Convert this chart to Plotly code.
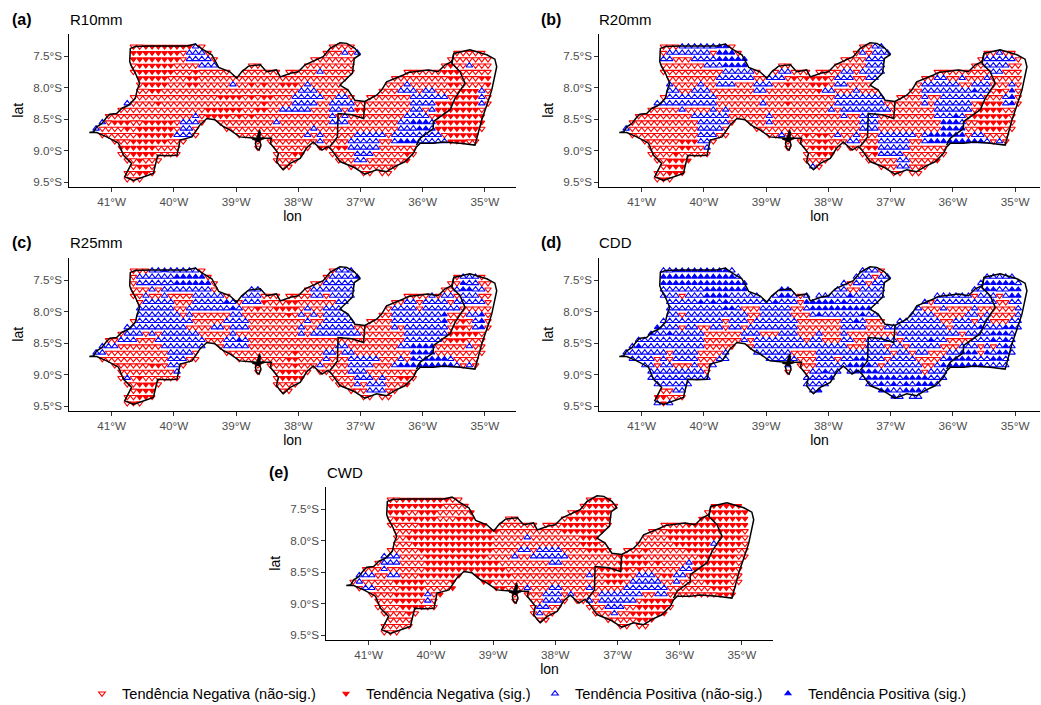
import plotly.graph_objects as go

LATS = [-7.25,-7.35,-7.45,-7.55,-7.65,-7.75,-7.85,-7.95,-8.05,-8.15,-8.25,-8.35,-8.45,-8.55,-8.65,-8.75,-8.85,-8.95,-9.05,-9.15,-9.25,-9.35,-9.45]
COLS = list(range(413, 348, -1))  # column label L = lon in tenths, cell centre at -(L/10 + 0.05)

OUT_LON = [41.36,41.29,41.24,41.16,41.08,41.03,40.92,40.84,40.73,40.62,40.59,40.55,40.62,40.68,40.71,40.70,40.62,40.38,40.06,39.79,39.66,39.53,39.39,39.31,39.28,39.10,38.99,38.91,38.80,38.61,38.51,38.35,38.29,
 38.11,38.00,37.89,37.70,37.60,37.49,37.33,37.22,37.09,37.01,37.10,37.13,37.25,37.33,37.20,37.09,36.93,36.74,36.66,36.58,36.31,36.23,35.91,35.75,35.64,35.53,35.50,35.24,34.97,34.84,34.81,34.84,34.89,34.97,35.05,35.16,35.40,35.67,35.83,36.04,36.10,36.15,36.28,36.45,36.58,36.74,36.93,37.11,37.33,37.46,37.52,37.62,37.76,37.87,37.97,38.13,38.24,
 38.29,38.35,38.32,38.45,38.43,38.62,38.62,38.66,38.69,38.67,38.63,38.60,38.63,38.69,38.94,39.10,39.20,39.34,39.47,39.58,39.71,39.90,39.95,40.11,40.26,40.33,40.54,40.65,40.79,40.68,40.81,40.89,41.08,41.24,41.36]
OUT_LAT = [8.71,8.70,8.62,8.57,8.47,8.42,8.41,8.33,8.28,8.17,8.04,7.93,7.77,7.67,7.59,7.38,7.35,7.34,7.34,7.34,7.31,7.40,7.48,7.62,7.68,7.75,7.85,7.75,7.66,7.64,7.75,7.72,7.83,
 7.77,7.75,7.64,7.56,7.51,7.38,7.29,7.30,7.38,7.48,7.54,7.77,7.88,7.96,8.04,8.20,8.22,8.12,8.04,7.91,7.80,7.76,7.72,7.75,7.64,7.59,7.46,7.40,7.48,7.55,7.67,7.83,8.04,8.28,8.51,8.91,8.88,8.86,8.88,8.88,8.94,9.04,9.17,9.25,9.33,9.30,9.37,9.26,9.17,8.99,8.93,8.99,8.86,8.96,9.12,9.20,9.30,
 9.25,9.17,9.04,8.88,8.80,8.80,8.67,8.79,8.88,8.96,8.99,8.91,8.82,8.80,8.78,8.67,8.62,8.51,8.49,8.59,8.78,8.83,9.07,9.08,9.07,9.36,9.44,9.47,9.41,9.20,9.07,8.88,8.78,8.71,8.71]
LINE_A_LON = [36.93,36.95,37.14,37.36,37.37,37.49]
LINE_A_LAT = [8.22,8.49,8.43,8.41,8.78,8.93]
LINE_B_LON = [35.50,35.53,35.40,35.32,35.48,35.56,35.83,35.83,36.04,36.10]
LINE_B_LAT = [7.46,7.62,7.75,7.93,8.17,8.35,8.54,8.65,8.80,8.91]
ISLAND_V_LON = [38.62,38.63,38.65]
ISLAND_V_LAT = [8.70,8.78,8.86]
ISLAND_H_LON = [38.55,38.63,38.74]
ISLAND_H_LAT = [8.80,8.82,8.81]

# one string per latitude row: class, then the columns it covers; everything else is the base class
R10MM_BASE = "n"
R10MM = ["",
"N 404-397 p 396",
"N 406-399 p 397-395 p 372 p 370",
"N 406-399 p 397-394",
"N 405-400 p 395-393 N 355 p 352",
"N 405-400 N 396 p 376 N 356-354",
"N 405-401 N 397-396 N 355-354 N 350-349",
"N 404-401 N 397-396 p 390 N 387 N 385 N 382-380 p 378 p 362 N 355-354 N 349",
"N 403-402 p 379-377 p 363-361 p 359-358 p 350 N 353-351",
"N 392-389 N 387 N 385-384 p 380-376 p 373-372 p 361-356 N 354-351 p 350",
"p 407 N 402 N 385 p 380-377 p 374-371 p 361-358 N 357-351 p 350",
"N 394-389 N 386-385 p 382 p 381-378 p 374-373 p 371 N 370-369 p 361-360 p 358 N 357-351",
"p 396 N 394-391 N 389 N 387 p 374 p 372 p 362-359 N 357-350",
"p 411 N 409-407 N 404-400 p 398-396 p 383 p 374-372 p 363-362 P 361-359 p 358 N 357-350",
"p 412 N 407 N 405-400 p 398-397 p 377 p 363-361 P 360-359 p 358 N 357-351",
"N 405-400 p 399-397 p 378 p 376 p 370-366 p 364-357 N 355-351",
"N 406-401 p 376 p 371-367 p 364 P 363-361 p 360-356 N 355-353",
"N 408-403 N 376-375 N 373-372 p 371-367",
"N 406-403 N 380-379 p 370-368 N 362",
"N 405 p 370-369 N 362-361",
"N 405-404",
"N 405-404",
""]

R20MM_BASE = "n"
R20MM = ["p 372",
"p 403-398 P 397-396 p 372-371",
"p 405-399 P 397-395 p 374 p 372-370 p 352",
"p 406-405 p 401-398 P 397-393 p 373-371 p 354-350",
"p 399-397 P 396-393 p 373-371 p 354-351",
"p 396-392 p 387-386 p 377-376 p 374-371 p 353-352",
"p 397-392 p 389-387 N 385 N 383 N 382-380 p 378-376 p 373-371 p 362-361 p 358 p 354",
"p 405 p 400 p 397-395 p 391-389 N 386 N 382-380 p 378-377 p 364-359 p 356-354 p 350",
"p 405-404 p 401-399 p 391-390 N 381 p 380-379 p 375 p 364-358 p 357 P 356 p 355-354 N 352 P 350",
"p 405-398 p 378-371 p 364 p 361-355 p 351 P 350",
"p 407-398 p 390 N 386 p 378-371 p 364 p 362-357 N 355-352 p 351 P 350",
"p 403 p 398 p 396 p 379 p 377-370 p 362-357 N 355-352",
"p 401-396 p 389 p 377 p 374-372 p 362-360 P 359 p 358 N 356-351",
"p 400-396 p 389 p 374-372 P 361-359 p 358 N 355-351",
"p 412 p 400-397 p 374-372 P 361-358 N 355-352",
"p 400-398 p 387 N 383 N 381-380 p 378 p 375 p 371-367 p 366 p 364 P 363-358 p 356-355",
"N 403-401 p 400-399 N 381-380 p 376-375 p 371-367 p 364 P 363-355 p 354 p 352",
"N 403-402 p 399 N 382-379 N 373-372 p 371-367",
"N 404 N 381-379 N 372 p 371-368",
"N 405-402 p 368-367 N 362-361",
"N 405-402 p 383-382 p 368-367",
"N 405-403",
"N 406"]

R25MM_BASE = "n"
R25MM = ["p 372",
"p 403-398 P 401 p 397-396 p 373-371",
"p 405-400 P 399-395 p 374-371 P 370 p 353-351",
"p 405-400 P 399-394 p 375-371 P 353 p 352-351",
"p 403 p 401-394 p 387-386 p 377-371 p 354 P 353-352 p 351-350",
"p 404 p 401 p 396-392 p 389-386 p 377-376 p 374-371 p 358 p 356-355 p 353-351",
"p 404-402 p 401-400 p 396-392 P 391 p 390 p 388-386 N 385 N 381-380 p 373-372 p 362-361 p 359-356 p 354 p 353-350",
"p 405-400 p 397-391 P 390 p 389 N 386 N 383 N 382-380 p 378 p 375-373 p 364-361 p 359-354",
"p 405-399 p 397 p 390-389 N 381 p 379 p 377 p 375-372 p 364-357 P 356 p 352-351 P 350",
"p 405-397 p 391-390 p 389-388 p 378 p 375-371 p 364-357 P 356 N 353 p 351 P 350",
"p 407-398 p 393-392 p 390 p 389-388 p 379 p 376-371 p 364 p 362-356 N 354-353 p 351 P 350",
"p 407-405 p 403 p 401-396 p 390 p 379 p 377-370 p 362-355 N 355-351",
"p 408-406 p 402-395 p 391-388 P 389 p 362-357 N 355-353",
"p 412-409 p 401-395 p 391-388 p 373-372 p 363-362 P 361-358 p 352",
"p 412-411 p 400-397 N 380 p 375-374 p 372-371 P 361-358",
"p 400-398 N 381-380 p 375 p 371-369 p 368-367 p 363 P 361 p 360 P 359-356 p 355",
"N 403-402 p 400-399 N 380 p 376 p 371-368 p 364 P 363-355 p 354 p 352",
"p 409 p 399 N 382-380 p 371-369",
"p 407 N 405 N 382-379 p 370-368 p 366 N 363-362",
"N 405-403 p 370 p 368-366 N 362",
"N 405-402 p 368-366",
"N 405-403",
"N 406"]

CDD_BASE = "p"
CDD = ["n 372",
"P 404-396 n 371",
"P 406-395 n 372",
"P 406-393 n 376 n 373 P 354-350",
"P 399-393 P 387-386 n 376-375 P 354-353 P 350-349",
"n 403 P 399-396 P 389 P 387-386 n 384 P 376 n 356 n 352 P 350-349",
"P 400 P 398 P 396 P 388 n 384 P 383-380 P 379 P 377 n 363 n 352-351",
"P 396-395 n 393-391 n 385-384 P 382-373 n 364-362 n 360-357 n 355 n 354-350",
"n 403 n 392-391 n 385-383 P 381 P 374 n 362-358 n 355 n 353-350",
"n 396 n 392 n 384-383 n 382-378 P 375 n 373-371 n 361-360 n 356 n 353-351",
"P 407 n 403 n 400-399 n 396 n 393 n 384-378 n 373-371 n 360 P 355 P 351-350",
"P 408 P 405 n 399-394 n 390-388 n 384-382 n 380-378 n 376-370 n 369 n 358 P 353-351",
"n 399-394 n 392 n 383 n 380-378 n 375-374 n 368 P 363 n 360-357 P 353 P 351",
"P 410 n 399-395 n 392 n 376-374 n 370 n 367 n 361-359 n 355 n 353 P 351",
"n 405 n 400-397 n 385-382 n 369 n 366 n 363-361 n 355 P 358-356 P 354 P 352-351",
"n 407 n 405 n 400-398 n 384-382 n 378 P 375-374 n 370 n 365-362 P 360-357 P 353-352",
"n 407 n 404-402 n 400-399 n 384-382 P 376-373 n 371 n 364-363 P 361-355",
"n 409 n 399 n 386 n 384-383 P 380 P 377 P 375-372 n 364",
"P 379 P 373-369 P 367-364",
"P 371 P 369 P 367 P 365-363",
"n 406-405 P 383 P 381 P 371-370 P 367-365",
"N 407-406 n 405-403 P 369",
"N 406"]

CWD_BASE = "n"
CWD = ["N 372",
"N 404-397 N 373-371",
"N 406-398 N 374-371 N 354-350",
"N 406-404 N 401-399 N 393 N 376-371 N 354-349",
"N 405-399 N 395-393 N 377-371 N 356-349",
"N 401-390 N 378-372 N 358-349",
"N 402-389 N 378-372 N 361-350",
"N 403-390 p 384 N 375-373 N 361-350",
"N 402-390 N 375-373 N 360-355 p 354 N 353-350",
"N 401-390 p 385-384 p 382-379 N 374-372 N 365 N 358-355 N 353-351",
"p 407-405 N 400-391 p 386 p 383-378 N 369-366 N 356-351",
"p 407-405 N 400-389 p 380-379 N 369-365 N 363 p 358 N 357-351",
"p 407 N 400-388 N 372-368 N 366 p 359-358 N 357-351",
"p 412-409 p 406-405 N 401-387 p 374 N 371-368 p 366-364 N 362-361 p 360-359 N 356-352",
"p 411 N 405-401 N 396-390 N 371-369 p 367-363 p 360 N 355-352",
"p 410-409 N 404-401 N 396-388 p 384 p 380-379 p 374 p 368-362 N 354-352",
"N 405-401 p 400 N 398-390 p 381-379 p 377 p 372-366 p 363-362 N 353-351",
"N 405-402 p 400 p 385-384 p 381-379 p 374 p 372-367 N 365-361",
"N 404-401 p 382-381 p 371-369 N 366-362",
"N 403 p 382 p 370 N 367-362",
"N 402 N 366-364",
"",
""]

TICK_LON = [-41,-40,-39,-38,-37,-36,-35]
TICK_LON_TXT = ["41°W","40°W","39°W","38°W","37°W","36°W","35°W"]
TICK_LAT = [-7.5,-8.0,-8.5,-9.0,-9.5]
TICK_LAT_TXT = ["7.5°S","8.0°S","8.5°S","9.0°S","9.5°S"]

CLASS_NAMES = {"n":"Tendência Negativa (não-sig.)","N":"Tendência Negativa (sig.)","p":"Tendência Positiva (não-sig.)","P":"Tendência Positiva (sig.)"}
PANELS = [("a","R10mm",R10MM,R10MM_BASE,69,516,33.5,187,-41.686,-34.50,10,68,19),
          ("b","R20mm",R20MM,R20MM_BASE,599,1040,33.5,187,-41.686,-34.60,539,597,19),
          ("c","R25mm",R25MM,R25MM_BASE,69,516,257.5,411,-41.686,-34.50,10,68,243),
          ("d","CDD",CDD,CDD_BASE,599,1040,257.5,411,-41.686,-34.60,539,597,243),
          ("e","CWD",CWD,CWD_BASE,326,773,486.5,640,-41.686,-34.50,267,325,472)]
W, H = 1041, 705
FONT = "Liberation Sans"
LEG_X = {"n":82,"N":326,"p":535,"P":768}

def inside(x, y):
    c = False
    n = len(OUT_LON)
    for i in range(n - 1):
        x1, y1, x2, y2 = OUT_LON[i], OUT_LAT[i], OUT_LON[i+1], OUT_LAT[i+1]
        if (y1 > y) != (y2 > y) and x < (x2 - x1) * (y - y1) / (y2 - y1) + x1:
            c = not c
    return c

def in_mask(lon, lat):
    d = 0.04
    return any(inside(lon + a, lat + b) for a, b in [(0,0),(d,0),(-d,0),(0,d),(0,-d)])

def classes(rows, base):
    out = {"n":[], "N":[], "p":[], "P":[]}
    for lat, spec in zip(LATS, rows):
        row = {c: base for c in COLS}
        t = spec.split()
        for k, r in zip(t[0::2], t[1::2]):
            a, _, b = r.partition("-")
            a = int(a); b = int(b) if b else a
            for c in range(a, b - 1, -1):
                if c in row:
                    row[c] = k
        for c in COLS:
            lon = c / 10 + 0.05
            if in_mask(lon, -lat):
                out[row[c]].append((-lon, lat))
    return out

fig = go.Figure()
anns = []
layout = {}
for idx, (tag, title, rows, base, x0, x1, y0, y1, xr0, xr1, tx, ttx, ty) in enumerate(PANELS):
    sfx = "" if idx == 0 else str(idx + 1)
    xa, ya = "x" + sfx, "y" + sfx
    pts = classes(rows, base)
    for k in "nNpP":
        col = "red" if k in "nN" else "blue"
        sym = "triangle-down" if k in "nN" else "triangle-up"
        fill = col if k in "NP" else "white"
        lg = {"n":"legend","N":"legend2","p":"legend3","P":"legend4"}[k]
        fig.add_trace(go.Scatter(
            x=[p[0] for p in pts[k]], y=[p[1] for p in pts[k]], mode="markers",
            name=CLASS_NAMES[k], legend=lg, showlegend=(idx == 0), xaxis=xa, yaxis=ya,
            marker=dict(symbol=sym, size=(5.0 if k in "NP" else 5.8), color=fill,
                        line=dict(color=col, width=(1.2 if k in "NP" else 1.1))), hoverinfo="skip"))
    for lo, la, wd in [(OUT_LON, OUT_LAT, 1.5), (LINE_A_LON, LINE_A_LAT, 1.5), (LINE_B_LON, LINE_B_LAT, 1.5),
                       (ISLAND_V_LON, ISLAND_V_LAT, 3), (ISLAND_H_LON, ISLAND_H_LAT, 2.5)]:
        fig.add_trace(go.Scatter(x=[-v for v in lo], y=[-v for v in la], mode="lines", showlegend=False,
                                 xaxis=xa, yaxis=ya, line=dict(color="black", width=wd), hoverinfo="skip"))
    layout["xaxis" + sfx] = dict(domain=[x0 / W, x1 / W], range=[xr0, xr1], anchor=ya, tickvals=TICK_LON, ticktext=TICK_LON_TXT,
        showline=True, linecolor="black", linewidth=1.2, ticks="outside", ticklen=3.5, tickwidth=1, tickcolor="#333333",
        tickfont=dict(size=11.7, color="#4D4D4D", family=FONT), showgrid=False, zeroline=False,
        title=dict(text="lon", standoff=2, font=dict(size=14, color="black", family=FONT)))
    layout["yaxis" + sfx] = dict(domain=[1 - y1 / H, 1 - y0 / H], range=[-9.573, -7.144], anchor=xa, tickvals=TICK_LAT, ticktext=TICK_LAT_TXT,
        showline=True, linecolor="black", linewidth=1.2, ticks="outside", ticklen=3.5, tickwidth=1, tickcolor="#333333",
        tickfont=dict(size=11.7, color="#4D4D4D", family=FONT), showgrid=False, zeroline=False,
        title=dict(text="lat", standoff=6, font=dict(size=14, color="black", family=FONT)))
    anns.append(dict(text="<b>(%s)</b>" % tag, x=tx / W, y=1 - ty / H, xref="paper", yref="paper", xanchor="left", yanchor="middle",
                     showarrow=False, font=dict(size=16, color="black", family=FONT)))
    anns.append(dict(text=title, x=ttx / W, y=1 - ty / H, xref="paper", yref="paper", xanchor="left", yanchor="middle",
                     showarrow=False, font=dict(size=15, color="black", family=FONT)))

for k, name in zip("nNpP", ["legend", "legend2", "legend3", "legend4"]):
    layout[name] = dict(x=LEG_X[k] / W, y=1 - 693.5 / H, xanchor="left", yanchor="middle", orientation="h",
                        bgcolor="rgba(0,0,0,0)", font=dict(size=14.6, color="black", family=FONT), itemsizing="trace", itemwidth=30)

fig.update_layout(width=W, height=H, margin=dict(l=0, r=0, t=0, b=0, autoexpand=False), plot_bgcolor="white", paper_bgcolor="white",
                  annotations=anns, **layout)
fig.write_html("out.html", post_script="document.body.style.margin='0';", config={"displayModeBar": False})
